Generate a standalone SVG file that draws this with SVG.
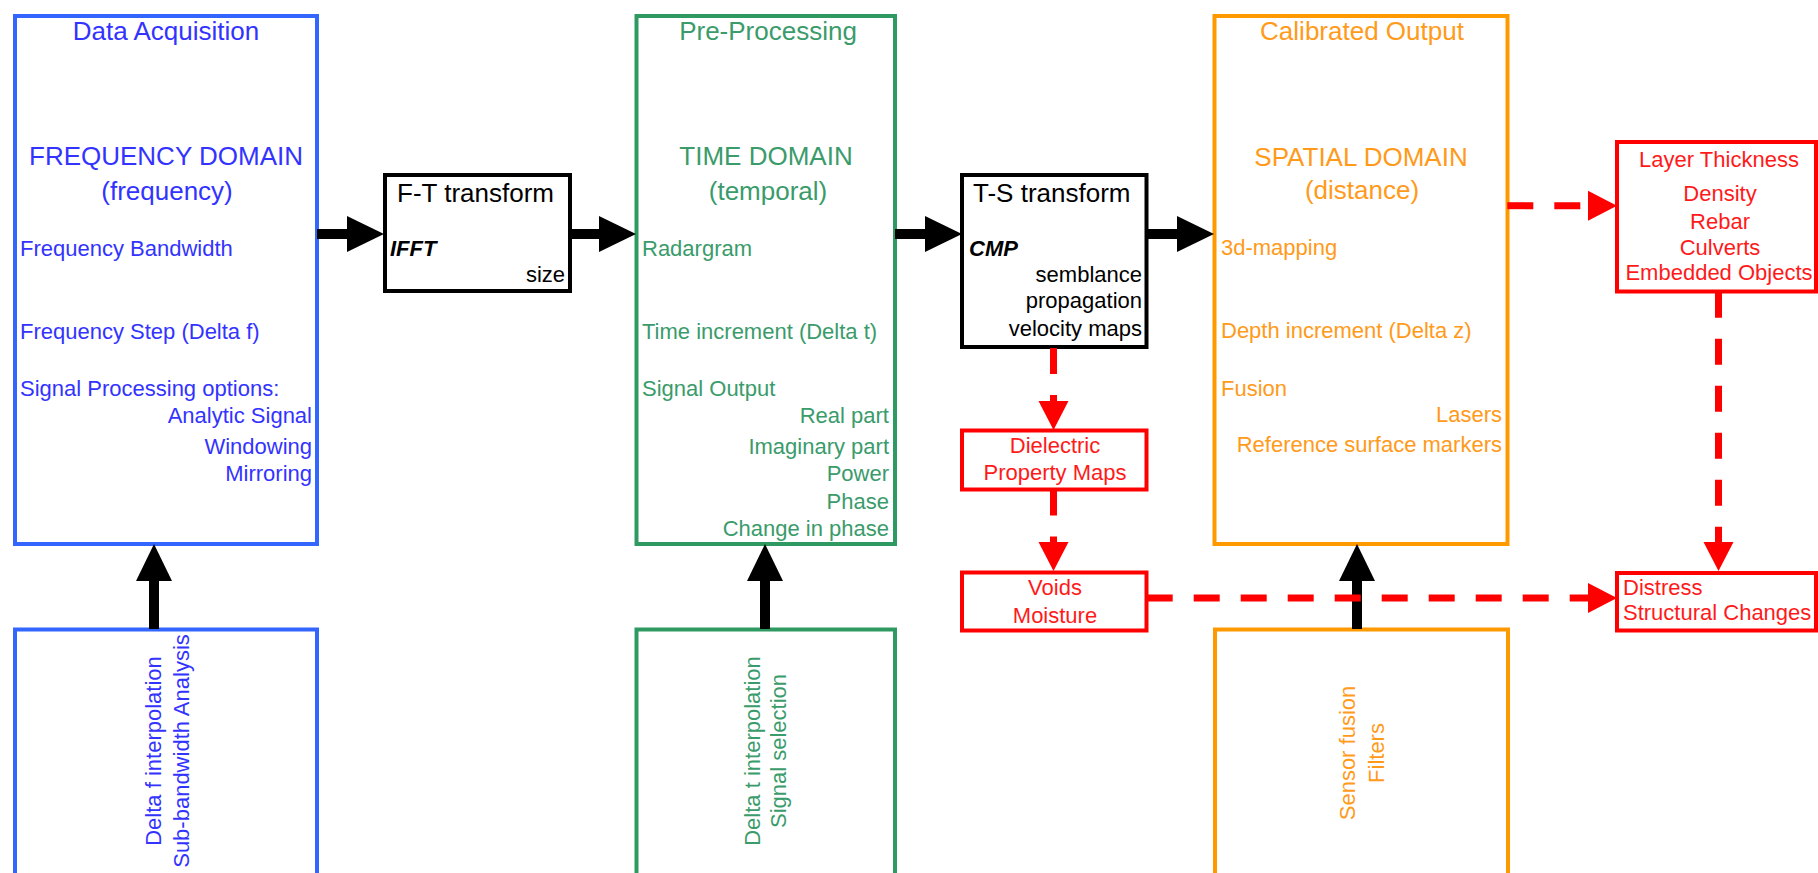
<svg xmlns="http://www.w3.org/2000/svg" width="1818" height="873" viewBox="0 0 1818 873">
<style>
text{font-family:"Liberation Sans",Arial,sans-serif;font-size:22px}
.h{font-size:26px}
.m{text-anchor:middle}
.e{text-anchor:end}
.bi{font-weight:bold;font-style:italic}
.box{fill:#fff;stroke-width:4}
.blue{stroke:#3366ff}.tb{fill:#3333ff}
.green{stroke:#2e9a62}.tg{fill:#3a9b6b}
.orange{stroke:#ff9900}.to{fill:#ff9a1a}
.black{stroke:#000}.tk{fill:#000}
.red{stroke:#ff0000}.tr{fill:#ff1a1a}
.arr{stroke:#000;stroke-width:10;fill:none}
.dash{stroke:#ff0000;stroke-width:7;fill:none;stroke-dasharray:26 21}
</style>
<defs>
<marker id="ab" markerUnits="userSpaceOnUse" markerWidth="37" markerHeight="36" refX="0" refY="18" orient="auto" overflow="visible"><path d="M0,0 L37,18 L0,36 z" fill="#000"/></marker>
<marker id="ar" markerUnits="userSpaceOnUse" markerWidth="29" markerHeight="30" refX="0" refY="15" orient="auto" overflow="visible"><path d="M0,0 L29,15 L0,30 z" fill="#ff0000"/></marker>
</defs>
<rect width="1818" height="873" fill="#fff"/>

<g id="data-acquisition">
<rect class="box blue" x="15" y="16" width="302" height="528"/>
<text class="h m tb" x="166" y="40">Data Acquisition</text>
<text class="h m tb" x="166" y="165">FREQUENCY DOMAIN</text>
<text class="h m tb" x="167" y="200">(frequency)</text>
<text class="tb" x="20" y="256">Frequency Bandwidth</text>
<text class="tb" x="20" y="339">Frequency Step (Delta f)</text>
<text class="tb" x="20" y="396">Signal Processing options:</text>
<text class="e tb" x="312" y="423">Analytic Signal</text>
<text class="e tb" x="312" y="454">Windowing</text>
<text class="e tb" x="312" y="481">Mirroring</text>
</g>

<g id="ft-transform">
<rect class="box black" x="385" y="175" width="185" height="116"/>
<text class="h tk" x="397" y="202">F-T transform</text>
<text class="bi tk" x="390" y="256">IFFT</text>
<text class="e tk" x="565" y="282">size</text>
</g>

<g id="pre-processing">
<rect class="box green" x="636.5" y="16" width="258.5" height="528"/>
<text class="h m tg" x="768" y="40">Pre-Processing</text>
<text class="h m tg" x="766" y="165">TIME DOMAIN</text>
<text class="h m tg" x="768" y="200">(temporal)</text>
<text class="tg" x="642" y="256">Radargram</text>
<text class="tg" x="642" y="339">Time increment (Delta t)</text>
<text class="tg" x="642" y="396">Signal Output</text>
<text class="e tg" x="889" y="423">Real part</text>
<text class="e tg" x="889" y="454">Imaginary part</text>
<text class="e tg" x="889" y="481">Power</text>
<text class="e tg" x="889" y="509">Phase</text>
<text class="e tg" x="889" y="536">Change in phase</text>
</g>

<g id="ts-transform">
<rect class="box black" x="962" y="175" width="184.5" height="172"/>
<text class="h tk" x="973" y="202">T-S transform</text>
<text class="bi tk" x="969" y="256">CMP</text>
<text class="e tk" x="1142" y="282">semblance</text>
<text class="e tk" x="1142" y="308">propagation</text>
<text class="e tk" x="1142" y="336">velocity maps</text>
</g>

<g id="calibrated-output">
<rect class="box orange" x="1214.5" y="16" width="293" height="528"/>
<text class="h m to" x="1362" y="40">Calibrated Output</text>
<text class="h m to" x="1361" y="166">SPATIAL DOMAIN</text>
<text class="h m to" x="1362" y="199">(distance)</text>
<text class="to" x="1221" y="255">3d-mapping</text>
<text class="to" x="1221" y="338">Depth increment (Delta z)</text>
<text class="to" x="1221" y="396">Fusion</text>
<text class="e to" x="1502" y="422">Lasers</text>
<text class="e to" x="1502" y="452">Reference surface markers</text>
</g>

<g id="dielectric">
<rect class="box red" x="962" y="430.5" width="184.5" height="59"/>
<text class="m tr" x="1055" y="453">Dielectric</text>
<text class="m tr" x="1055" y="480">Property Maps</text>
</g>

<g id="voids">
<rect class="box red" x="962" y="572.5" width="184.5" height="58"/>
<text class="m tr" x="1055" y="595">Voids</text>
<text class="m tr" x="1055" y="623">Moisture</text>
</g>

<g id="layer-thickness">
<rect class="box red" x="1617" y="142" width="199" height="149.5"/>
<text class="m tr" x="1719" y="167">Layer Thickness</text>
<text class="m tr" x="1720" y="201">Density</text>
<text class="m tr" x="1720" y="229">Rebar</text>
<text class="m tr" x="1720" y="255">Culverts</text>
<text class="m tr" x="1719" y="280">Embedded Objects</text>
</g>

<g id="distress">
<rect class="box red" x="1617" y="573" width="199" height="57.5"/>
<text class="tr" x="1623" y="595">Distress</text>
<text class="tr" x="1623" y="620">Structural Changes</text>
</g>

<g id="delta-f">
<rect class="box blue" x="15" y="629.5" width="302" height="260"/>
<text class="m tb" transform="translate(161,751) rotate(-90)">Delta f interpolation</text>
<text class="m tb" transform="translate(189,751) rotate(-90)">Sub-bandwidth Analysis</text>
</g>

<g id="delta-t">
<rect class="box green" x="636.5" y="629.5" width="258.5" height="260"/>
<text class="m tg" transform="translate(760,751) rotate(-90)">Delta t interpolation</text>
<text class="m tg" transform="translate(786,751) rotate(-90)">Signal selection</text>
</g>

<g id="sensor-fusion">
<rect class="box orange" x="1215" y="629.5" width="293" height="260"/>
<text class="m to" transform="translate(1355,753) rotate(-90)">Sensor fusion</text>
<text class="m to" transform="translate(1384,753) rotate(-90)">Filters</text>
</g>

<g id="connectors">
<path class="arr" d="M317,234 H347" marker-end="url(#ab)"/>
<path class="arr" d="M570,234 H599" marker-end="url(#ab)"/>
<path class="arr" d="M895,234 H925" marker-end="url(#ab)"/>
<path class="arr" d="M1146.5,234 H1177" marker-end="url(#ab)"/>
<path class="arr" d="M154,629 V581" marker-end="url(#ab)"/>
<path class="arr" d="M765,629 V581" marker-end="url(#ab)"/>
<path class="arr" d="M1357,629 V581" marker-end="url(#ab)"/>
<path class="dash" d="M1053.5,348 V401" marker-end="url(#ar)"/>
<path class="dash" d="M1053.5,489.5 V542" marker-end="url(#ar)"/>
<path class="dash" d="M1146.7,598 H1588" marker-end="url(#ar)"/>
<path class="dash" d="M1507.3,205.7 H1588" marker-end="url(#ar)"/>
<path class="dash" d="M1718.5,291.7 V542" marker-end="url(#ar)"/>
</g>
</svg>
